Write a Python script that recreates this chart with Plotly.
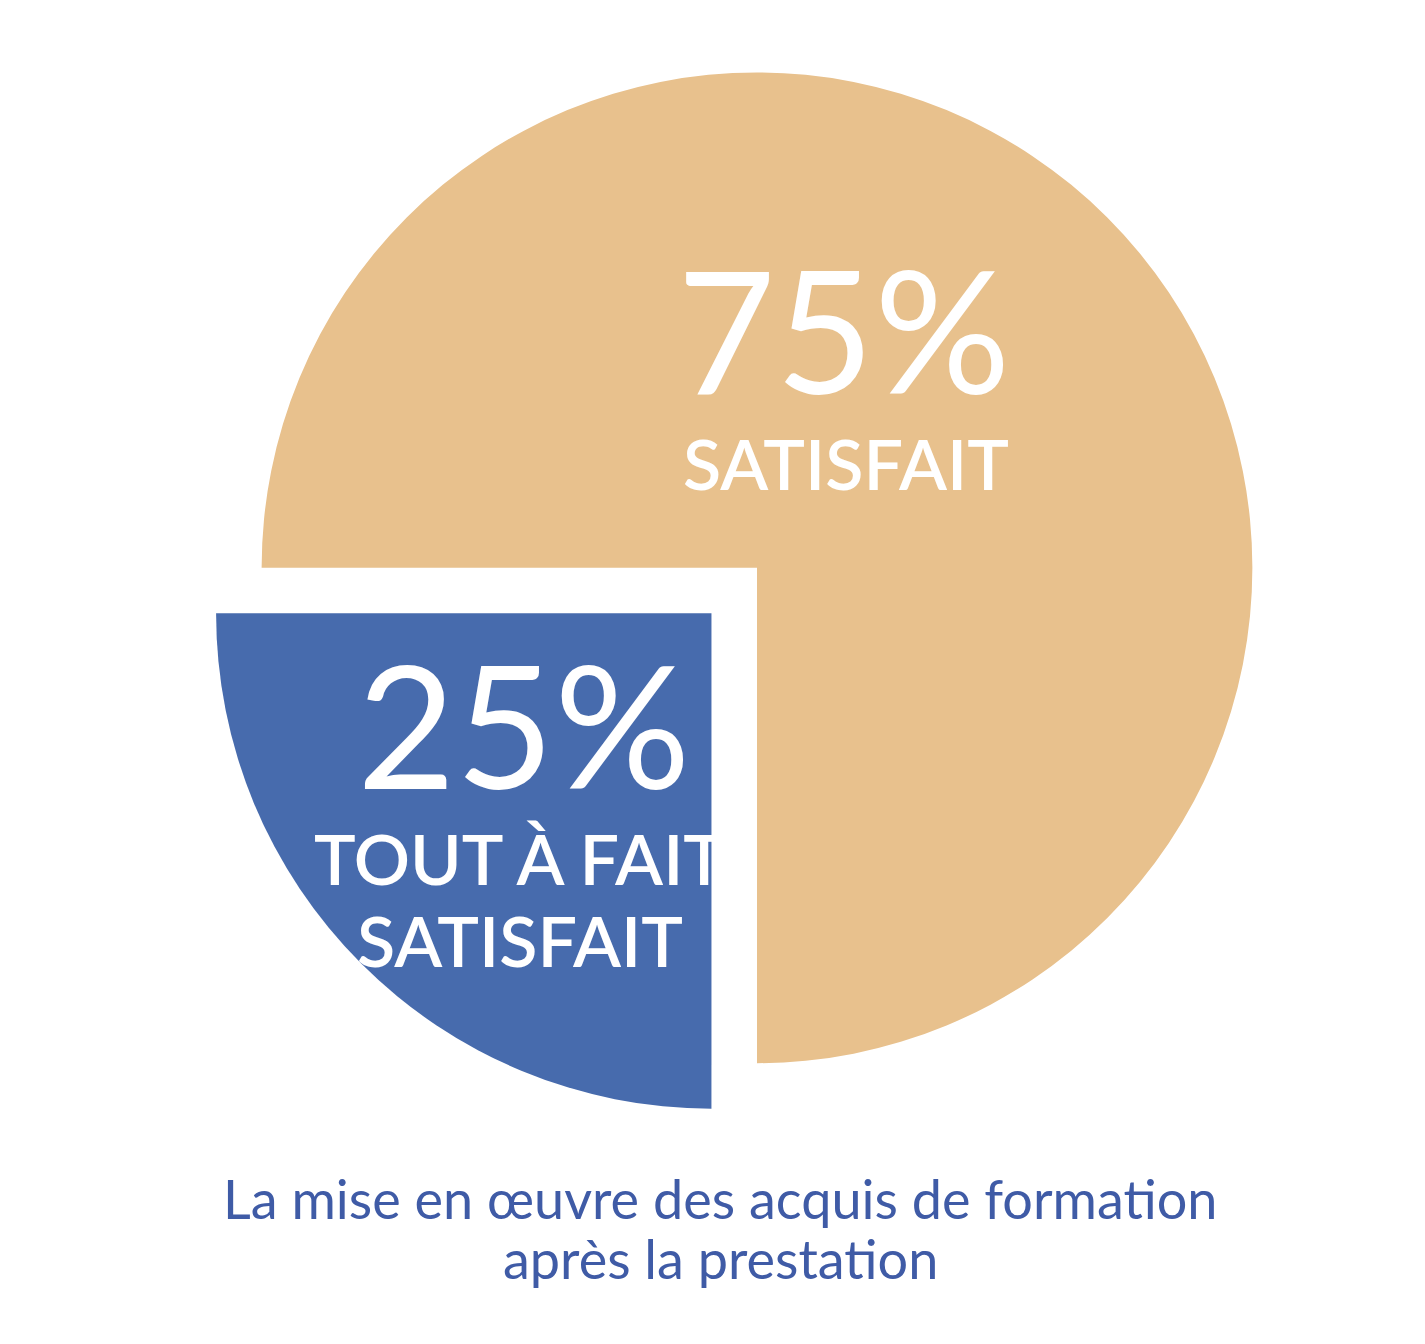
import plotly.graph_objects as go

labels = ["Tout à fait satisfait", "Satisfait"]
values = [25, 75]
colors = ["#476BAD", "#E8C18D"]
pulls = [0.13, 0]

W, H = 1425, 1344
fig = go.Figure(go.Pie(
    labels=labels, values=values, sort=False, direction="clockwise",
    rotation=180, pull=pulls, textinfo="none", hoverinfo="skip",
    marker=dict(colors=colors, line=dict(width=0)),
    domain=dict(x=[184/W, 1314/W], y=[0.167, 1.0]), showlegend=False,
))

def ann(text, x, y, size, color="white", weight="normal"):
    fig.add_annotation(text=text, x=x/W, y=1-y/H, xref="paper", yref="paper",
                       showarrow=False, font=dict(size=size, color=color, family="Lato", weight=weight),
                       xanchor="center", yanchor="middle")

ann("75%", 835, 320, 170)
ann("SATISFAIT", 838, 455, 70, weight=600)
ann("25%", 515, 715, 170)
ann("TOUT À FAIT", 512, 850, 70, weight=600)
ann("SATISFAIT", 512, 932, 70, weight=600)
ann("La mise en œuvre des acquis de formation", 712, 1190, 54, "#3F5BA6")
ann("après la prestation", 712, 1250, 54, "#3F5BA6")

fig.update_layout(width=W, height=H, margin=dict(l=0, r=0, t=0, b=0),
                  paper_bgcolor="white", plot_bgcolor="white")
fig.write_html("out.html")
